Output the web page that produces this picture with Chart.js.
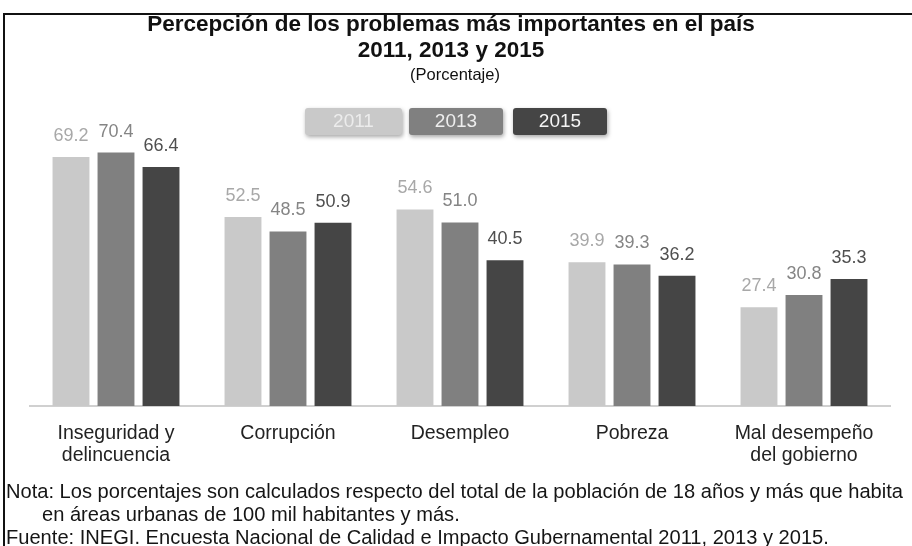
<!DOCTYPE html>
<html>
<head>
<meta charset="utf-8">
<script src="https://cdn.jsdelivr.net/npm/chart.js@4"></script>
<style>
  body { margin: 0; background: #fff; }
  #wrap { position: relative; width: 912px; height: 546px; overflow: hidden; font-family: "Liberation Sans", Arial, sans-serif; color: #111; }
  #marco { position: absolute; left: 3px; top: 13px; width: 920px; height: 560px; border-top: 2px solid #111; border-left: 2px solid #111; }
  #titulo { position: absolute; left: 0; width: 902px; top: 11px; text-align: center; font-weight: bold; font-size: 22.5px; line-height: 26px; }
  #subtitulo { position: absolute; left: 0; width: 910px; top: 64px; text-align: center; font-size: 16.5px; line-height: 20px; }
  #notas { position: absolute; left: 6px; top: 480px; font-size: 20.1px; line-height: 23px; white-space: nowrap; color: #151515; }
  canvas { position: absolute; left: 0; top: 0; }
</style>
</head>
<body>
<div id="wrap">
  <div id="marco"></div>
  <canvas id="canvasGrafico" width="912" height="546"></canvas>
  <div id="titulo">Percepción de los problemas más importantes en el país<br>2011, 2013 y 2015</div>
  <div id="subtitulo">(Porcentaje)</div>
  <div id="notas">
    Nota: Los porcentajes son calculados respecto del total de la población de 18 años y más que habita<br>
    <span style="padding-left:36px">en áreas urbanas de 100 mil habitantes y más.</span><br>
    Fuente: INEGI. Encuesta Nacional de Calidad e Impacto Gubernamental 2011, 2013 y 2015.
  </div>
</div>
<script>
const problemas = [
  ['Inseguridad y', 'delincuencia'],
  'Corrupción',
  'Desempleo',
  'Pobreza',
  ['Mal desempeño', 'del gobierno']
];

const anios = ['2011', '2013', '2015'];

const datos2011 = [69.2, 52.5, 54.6, 39.9, 27.4];
const datos2013 = [70.4, 48.5, 51.0, 39.3, 30.8];
const datos2015 = [66.4, 50.9, 40.5, 36.2, 35.3];

const fuente = '"Liberation Sans", Arial, sans-serif';

const coloresBarra = ['#c9c9c9', '#808080', '#454545'];
const coloresEtiqueta = ['#a8a8a8', '#858585', '#4f4f4f'];
const coloresTextoLeyenda = ['#ececec', '#eeeeee', '#f5f5f5'];

// etiquetas de valor arriba de cada barra
const etiquetasValor = {
  id: 'etiquetasValor',
  afterDatasetsDraw(chart) {
    const ctx = chart.ctx;
    ctx.save();
    ctx.font = '18px ' + fuente;
    ctx.textAlign = 'center';
    ctx.textBaseline = 'bottom';
    chart.data.datasets.forEach(function (ds, i) {
      const meta = chart.getDatasetMeta(i);
      meta.data.forEach(function (barra, j) {
        ctx.fillStyle = coloresEtiqueta[i];
        ctx.fillText(ds.data[j].toFixed(1), barra.x, barra.y - 12);
      });
    });
    ctx.restore();
  }
};

// leyenda con el texto dentro de cada caja
const leyendaCajas = {
  id: 'leyendaCajas',
  afterDraw(chart) {
    const ctx = chart.ctx;
    const cajas = [[305, 97], [409, 94], [513, 94]];
    ctx.save();
    ctx.font = '19px ' + fuente;
    ctx.textAlign = 'center';
    ctx.textBaseline = 'middle';
    chart.data.datasets.forEach(function (ds, i) {
      const x = cajas[i][0];
      const w = cajas[i][1];
      ctx.shadowColor = 'rgba(0,0,0,0.35)';
      ctx.shadowBlur = 4;
      ctx.shadowOffsetX = 1;
      ctx.shadowOffsetY = 2;
      ctx.fillStyle = ds.backgroundColor;
      ctx.beginPath();
      ctx.roundRect(x, 108, w, 27, 3);
      ctx.fill();
      ctx.shadowColor = 'transparent';
      ctx.fillStyle = coloresTextoLeyenda[i];
      ctx.fillText(ds.label, x + w / 2, 122);
    });
    ctx.restore();
  }
};

const data = {
  labels: problemas,
  datasets: [
    { label: anios[0], data: datos2011, backgroundColor: coloresBarra[0] },
    { label: anios[1], data: datos2013, backgroundColor: coloresBarra[1] },
    { label: anios[2], data: datos2015, backgroundColor: coloresBarra[2] }
  ]
};

const config = {
  type: 'bar',
  data: data,
  options: {
    responsive: false,
    animation: false,
    categoryPercentage: 0.785,
    barPercentage: 0.82,
    layout: {
      padding: { left: 30, right: 22, top: 118, bottom: 0 }
    },
    plugins: {
      legend: { display: false },
      tooltip: { enabled: false }
    },
    scales: {
      x: {
        grid: { display: false },
        border: { display: true, color: '#d0d0d0', width: 2 },
        ticks: {
          color: '#222',
          padding: 9,
          maxRotation: 0,
          font: { family: fuente, size: 19.5, lineHeight: 1.1 }
        },
        afterFit: function (escala) { escala.height = 140; }
      },
      y: {
        display: false,
        min: 0,
        max: 80
      }
    }
  },
  plugins: [etiquetasValor, leyendaCajas]
};

const graficoDash = new Chart(
  document.getElementById('canvasGrafico'),
  config
);
</script>
</body>
</html>
